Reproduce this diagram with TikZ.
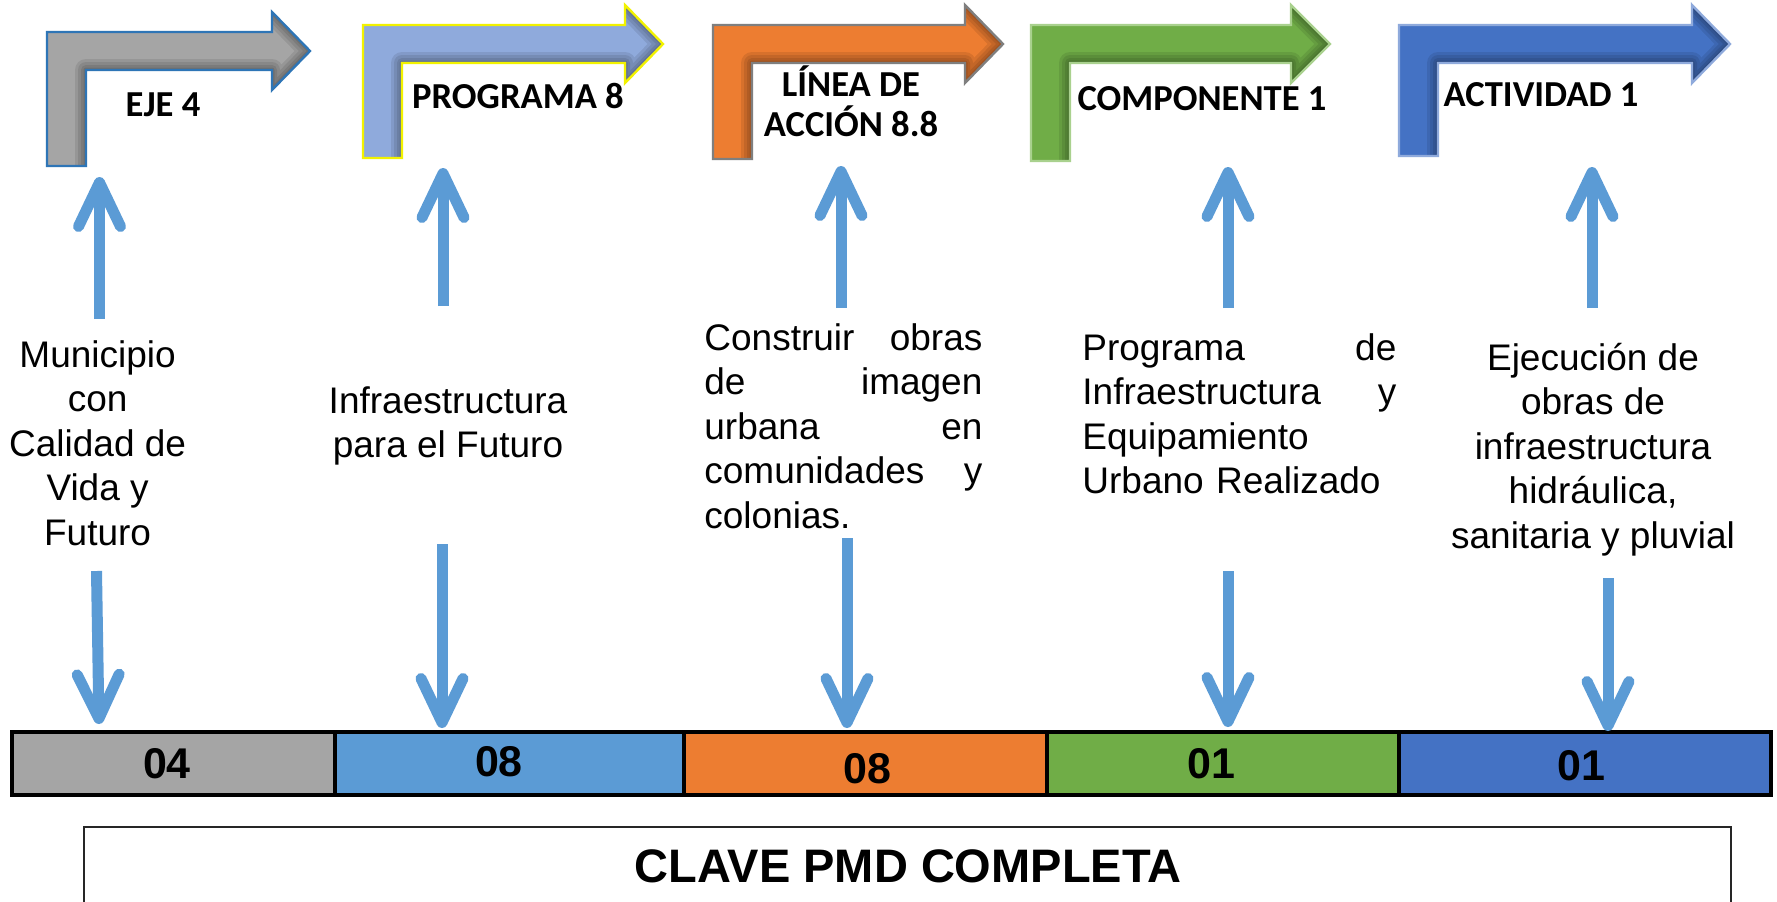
\documentclass[tikz,border=0pt]{standalone}
\usepackage{fontspec}
\setmainfont{Liberation Sans}
\newfontfamily\calib{Carlito}
\usetikzlibrary{arrows.meta}
\definecolor{agray}{HTML}{A5A5A5}
\definecolor{ablueL}{HTML}{8FAADC}
\definecolor{aorange}{HTML}{ED7D31}
\definecolor{agreen}{HTML}{70AD47}
\definecolor{ablueD}{HTML}{4472C4}
\definecolor{arrblue}{HTML}{5B9BD5}
\definecolor{bordblue}{HTML}{2E75B6}
\definecolor{bordyellow}{HTML}{F2F200}
\definecolor{bordgray}{HTML}{7F7F7F}
\definecolor{bordgreen}{HTML}{A9D18E}
\definecolor{bordlblue}{HTML}{8FAADC}
\definecolor{cellblue}{HTML}{5B9BD5}

% bent arrow path: #1=L, #2=B (bottom), #3=T (shaft top), #4=H (head start), #5=X (tip)
\newcommand\bentpath[5]{(#1,#2) -- (#1,#3) -- (#4,#3) -- (#4,#3-20) -- (#5,#3+19) -- (#4,#3+58) -- (#4,#3+38) -- (#1+39,#3+38) -- (#1+39,#2) -- cycle}
\newcommand\bentarrow[7]{%
  \fill[#6] \bentpath{#1}{#2}{#3}{#4}{#5};
  \begin{scope}
    \clip \bentpath{#1}{#2}{#3}{#4}{#5};
    \foreach \w in {11pt,8pt,5pt,2.5pt}{
      \draw[black, opacity=0.09, line width=\w, line join=round]
        (#1+39,#2+10) -- (#1+39,#3+38) -- (#4,#3+38) -- (#4,#3+58) -- (#5,#3+19) -- (#4,#3-20);
    }
  \end{scope}
  \draw[#7, line width=1.2pt] \bentpath{#1}{#2}{#3}{#4}{#5};
}

\tikzset{
  lab/.style={font=\calib\bfseries\fontsize{18.3}{20}\selectfont, inner sep=0, anchor=base, align=center},
  desc/.style={font=\fontsize{18.5}{22.3}\selectfont, inner sep=0, anchor=base},
  bluearr/.style={draw=arrblue, line width=5.5pt, -{Straight Barb[length=22pt, width=21pt, round]}},
  cell/.style={draw=black, line width=1.8pt, inner sep=0, minimum height=31.5pt},
  digit/.style={font=\bfseries\fontsize{21.5}{21.5}\selectfont, inner sep=0},
}

\begin{document}
\begin{tikzpicture}[x=0.5pt, y=-0.5pt]
\useasboundingbox (0,0) rectangle (1777,901);
\clip (0,0) rectangle (1777,901);
\fill[white] (0,0) rectangle (1777,901);

% bent arrows
\bentarrow{47}{166}{32}{272}{310}{agray}{bordblue}
\bentarrow{363}{158}{25}{625}{663}{ablueL}{bordyellow}
\bentarrow{713}{159}{25}{965}{1003}{aorange}{bordgray}
\bentarrow{1031}{161}{25}{1291}{1330}{agreen}{bordgreen}
\bentarrow{1399}{156}{25}{1692}{1730}{ablueD}{bordlblue}

% labels of bent arrows (multi-line: anchor base = last line)
\node[lab] (eje) at (163,116.7) {EJE 4};
\node[lab] (prog) at (518,108.3) {PROGRAMA 8};
\node[lab] (linea) at (851,136.7) {LÍNEA DE\\ACCIÓN 8.8};
\node[lab] (comp) at (1202,110) {COMPONENTE 1};
\node[lab] (act) at (1541,106.7) {ACTIVIDAD 1};

% description texts (centered ones: anchor base = last line)
\node[desc, align=center] (t1) at (97.6,545.4) {Municipio\\con\\Calidad de\\Vida y\\Futuro};
\node[desc, align=center] (t2) at (448,457.6) {Infraestructura\\para el Futuro};
\node[desc, align=left, text width=139pt, anchor=base west] (t3) at (704,350)
  {Construir\hfill obras\\de\hfill imagen\\urbana\hfill en\\comunidades\hfill y\\colonias.};
\node[desc, align=left, text width=157pt, anchor=base west] (t4) at (1082,360)
  {Programa\hfill de\\Infraestructura\hfill y\\Equipamiento\\Urbano Realizado};
\node[desc, align=center] (t5) at (1593,548.4) {Ejecución de\\obras de\\infraestructura\\hidráulica,\\sanitaria y pluvial};

% bar cells
\node[cell, fill=agray, minimum width=161.5pt] (c1) at (173.5,763.5) {};
\node[cell, fill=cellblue, minimum width=174.5pt] (c2) at (509.5,763.5) {};
\node[cell, fill=aorange, minimum width=181.5pt] (c3) at (865.5,763.5) {};
\node[cell, fill=agreen, minimum width=176pt] (c4) at (1223,763.5) {};
\node[cell, fill=ablueD, minimum width=186pt] (c5) at (1585,763.5) {};
\node[digit] (d1) at (167,764) {04};
\node[digit] (d2) at (499,762) {08};
\node[digit] (d3) at (867,769) {08};
\node[digit] (d4) at (1211,764) {01};
\node[digit] (d5) at (1581,766) {01};

% bottom box
\node[draw=black!85, line width=1pt, minimum width=823.5pt, minimum height=60pt, anchor=north west, inner sep=0] (box) at (83,826) {};
\node[font=\bfseries\fontsize{23.5}{23.5}\selectfont, inner sep=0] (clave) at (908,866) {CLAVE PMD COMPLETA};

% connector coordinates
\coordinate (u1s) at (99.5,319); \coordinate (u1e) at (99.5,177);
\coordinate (u2s) at (443,306);  \coordinate (u2e) at (443,168);
\coordinate (u3s) at (841,308);  \coordinate (u3e) at (841,166);
\coordinate (u4s) at (1228,308); \coordinate (u4e) at (1228,167);
\coordinate (u5s) at (1592,308); \coordinate (u5e) at (1592,167);
\coordinate (d1s) at (96.5,571); \coordinate (d1e) at (99,724);
\coordinate (d2s) at (442,544);  \coordinate (d2e) at (442,728);
\coordinate (d3s) at (847,538);  \coordinate (d3e) at (847,728);
\coordinate (d4s) at (1228,571); \coordinate (d4e) at (1228,727);
\coordinate (d5s) at (1608,578); \coordinate (d5e) at (1608,731);

\foreach \i in {1,...,5}{
  \draw[bluearr] (u\i s) -- (u\i e);
  \draw[bluearr] (d\i s) -- (d\i e);
}
\end{tikzpicture}
\end{document}
